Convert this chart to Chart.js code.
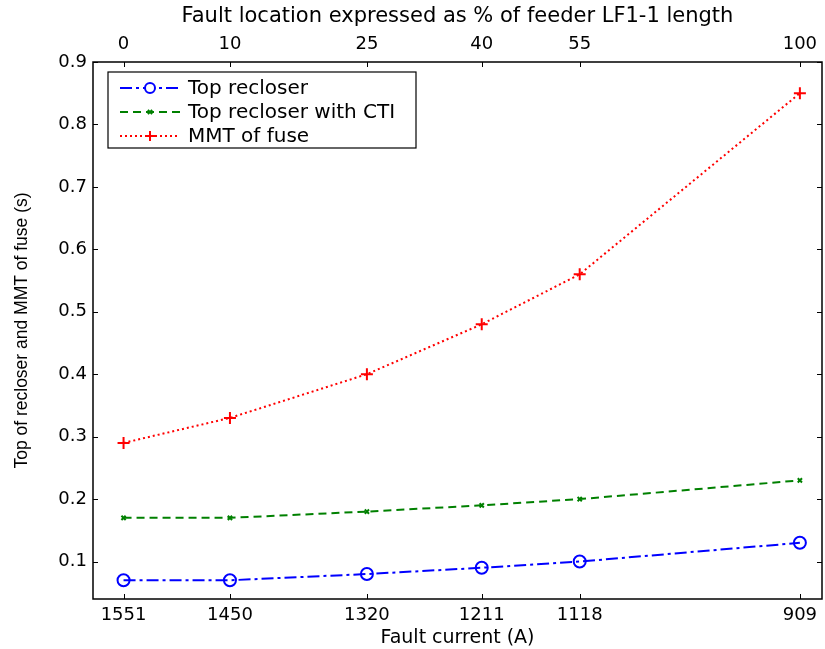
<!DOCTYPE html>
<html>
<head>
<meta charset="utf-8">
<script src="https://cdn.jsdelivr.net/npm/chart.js@4"></script>
<style>
  html, body { margin: 0; padding: 0; background: #fff; }
  #wrap { width: 825px; height: 649px; }
</style>
</head>
<body>
<div id="wrap"><canvas id="chart" width="825" height="649"></canvas></div>
<script>
/* data */
const faultCurrent = [1551, 1450, 1320, 1211, 1118, 909];
const locationPct = [0, 10, 25, 40, 55, 100];
const topRecloser = [0.07, 0.07, 0.08, 0.09, 0.10, 0.13];
const topRecloserCTI = [0.17, 0.17, 0.18, 0.19, 0.20, 0.23];
const mmtFuse = [0.29, 0.33, 0.40, 0.48, 0.56, 0.85];
const yTicks = [0.1, 0.2, 0.3, 0.4, 0.5, 0.6, 0.7, 0.8, 0.9];

const FONT = "'DejaVu Sans', sans-serif";
const FONT_NARROW = "'Liberation Sans', Arial, sans-serif";

const series = [
  { label: "Top recloser", data: topRecloser, color: "#0000ff", dash: [12, 4, 3, 4], marker: "circle" },
  { label: "Top recloser with CTI", data: topRecloserCTI, color: "#008000", dash: [8, 5], marker: "crossRot" },
  { label: "MMT of fuse", data: mmtFuse, color: "#ff0000", dash: [2, 3], marker: "cross" },
];

function toPoints(values) {
  return values.map((v, i) => ({ x: faultCurrent[i], y: v }));
}

function fixedTicks(values) {
  return (scale) => {
    scale.ticks = values.map((v) => ({ value: v }));
  };
}

// inward tick marks, box, and MATLAB-like legend
const matlabAxes = {
  id: "matlabAxes",
  afterDraw(chart) {
    const ctx = chart.ctx;
    const a = chart.chartArea;
    const x = chart.scales.x;
    const y = chart.scales.y;
    ctx.save();
    ctx.strokeStyle = "#000";
    ctx.lineWidth = 1;
    ctx.setLineDash([]);
    ctx.beginPath();
    faultCurrent.forEach((c) => {
      const px = Math.round(x.getPixelForValue(c)) + 0.5;
      ctx.moveTo(px, a.bottom);
      ctx.lineTo(px, a.bottom - 5);
      ctx.moveTo(px, a.top);
      ctx.lineTo(px, a.top + 5);
    });
    yTicks.forEach((t) => {
      const py = Math.round(y.getPixelForValue(t)) + 0.5;
      ctx.moveTo(a.left, py);
      ctx.lineTo(a.left + 5, py);
      ctx.moveTo(a.right, py);
      ctx.lineTo(a.right - 5, py);
    });
    ctx.stroke();
    ctx.lineWidth = 1.5;
    ctx.strokeRect(a.left, a.top, a.right - a.left, a.bottom - a.top);

    // legend
    const lx = a.left + 15, ly = a.top + 10, lw = 308, lh = 76;
    ctx.fillStyle = "#fff";
    ctx.fillRect(lx, ly, lw, lh);
    ctx.lineWidth = 1.2;
    ctx.strokeRect(lx, ly, lw, lh);
    ctx.font = "20px " + FONT;
    ctx.textBaseline = "middle";
    series.forEach((s, i) => {
      const ry = ly + 16 + i * 24;
      ctx.strokeStyle = s.color;
      ctx.lineWidth = 2;
      ctx.setLineDash(s.dash);
      ctx.beginPath();
      ctx.moveTo(lx + 12, ry);
      ctx.lineTo(lx + 72, ry);
      ctx.stroke();
      ctx.setLineDash([]);
      Chart.helpers.drawPoint(ctx, {
        pointStyle: s.marker,
        radius: s.marker === "crossRot" ? 3 : 5,
        borderWidth: 2,
        rotation: 0,
      }, lx + 42, ry);
      ctx.fillStyle = "#000";
      ctx.fillText(s.label, lx + 80, ry + 1);
    });
    ctx.restore();
  },
};

function noSidePadding(h) {
  return (scale) => {
    scale.height = h;
    scale.paddingLeft = 0;
    scale.paddingRight = 0;
  };
}

new Chart(document.getElementById("chart"), {
  type: "line",
  data: {
    datasets: series.map((s) => ({
      label: s.label,
      data: toPoints(s.data),
      borderColor: s.color,
      backgroundColor: s.color,
      borderWidth: 2,
      borderDash: s.dash,
      pointStyle: s.marker,
      pointRadius: s.marker === "crossRot" ? 3 : 6,
      pointBorderWidth: 2,
      pointBackgroundColor: "rgba(0,0,0,0)",
      pointBorderColor: s.color,
      tension: 0,
      fill: false,
    })),
  },
  options: {
    responsive: false,
    animation: false,
    layout: { autoPadding: false, padding: { left: 0, right: 3, top: 0, bottom: 0 } },
    plugins: {
      legend: { display: false },
      tooltip: { enabled: false },
    },
    scales: {
      x: {
        type: "linear",
        position: "bottom",
        reverse: true,
        min: 888,
        max: 1580,
        afterBuildTicks: fixedTicks(faultCurrent),
        grid: { display: false, drawTicks: false },
        border: { display: false },
        ticks: {
          color: "#000",
          font: { family: FONT, size: 18 },
          padding: 6,
          maxRotation: 0,
          autoSkip: false,
          callback: (v) => String(v),
        },
        title: {
          display: true,
          text: "Fault current (A)",
          color: "#000",
          font: { family: FONT, size: 19 },
          padding: { top: 0, bottom: 0 },
        },
        afterFit: noSidePadding(50),
      },
      x2: {
        type: "linear",
        position: "top",
        reverse: true,
        min: 888,
        max: 1580,
        afterBuildTicks: fixedTicks(faultCurrent),
        grid: { display: false, drawTicks: false },
        border: { display: false },
        ticks: {
          color: "#000",
          font: { family: FONT, size: 18 },
          padding: 7,
          maxRotation: 0,
          autoSkip: false,
          callback: (v) => {
            const i = faultCurrent.indexOf(v);
            return i >= 0 ? String(locationPct[i]) : "";
          },
        },
        title: {
          display: true,
          text: "Fault location expressed as % of feeder LF1-1 length",
          color: "#000",
          font: { family: FONT, size: 21 },
          padding: { top: 4, bottom: 1 },
        },
        afterFit: noSidePadding(62),
      },
      y: {
        type: "linear",
        min: 0.04,
        max: 0.9,
        afterBuildTicks: fixedTicks(yTicks),
        grid: { display: false, drawTicks: false },
        border: { display: false },
        ticks: {
          color: "#000",
          font: { family: FONT, size: 18 },
          padding: 6,
          callback: (v) => v.toFixed(1),
        },
        title: {
          display: true,
          text: "Top of recloser and MMT of fuse (s)",
          color: "#000",
          font: { family: FONT_NARROW, size: 17.5 },
          padding: { top: 12, bottom: 0 },
        },
        afterFit: (scale) => { scale.width = 93; },
      },
    },
  },
  plugins: [matlabAxes],
});
</script>
</body>
</html>
